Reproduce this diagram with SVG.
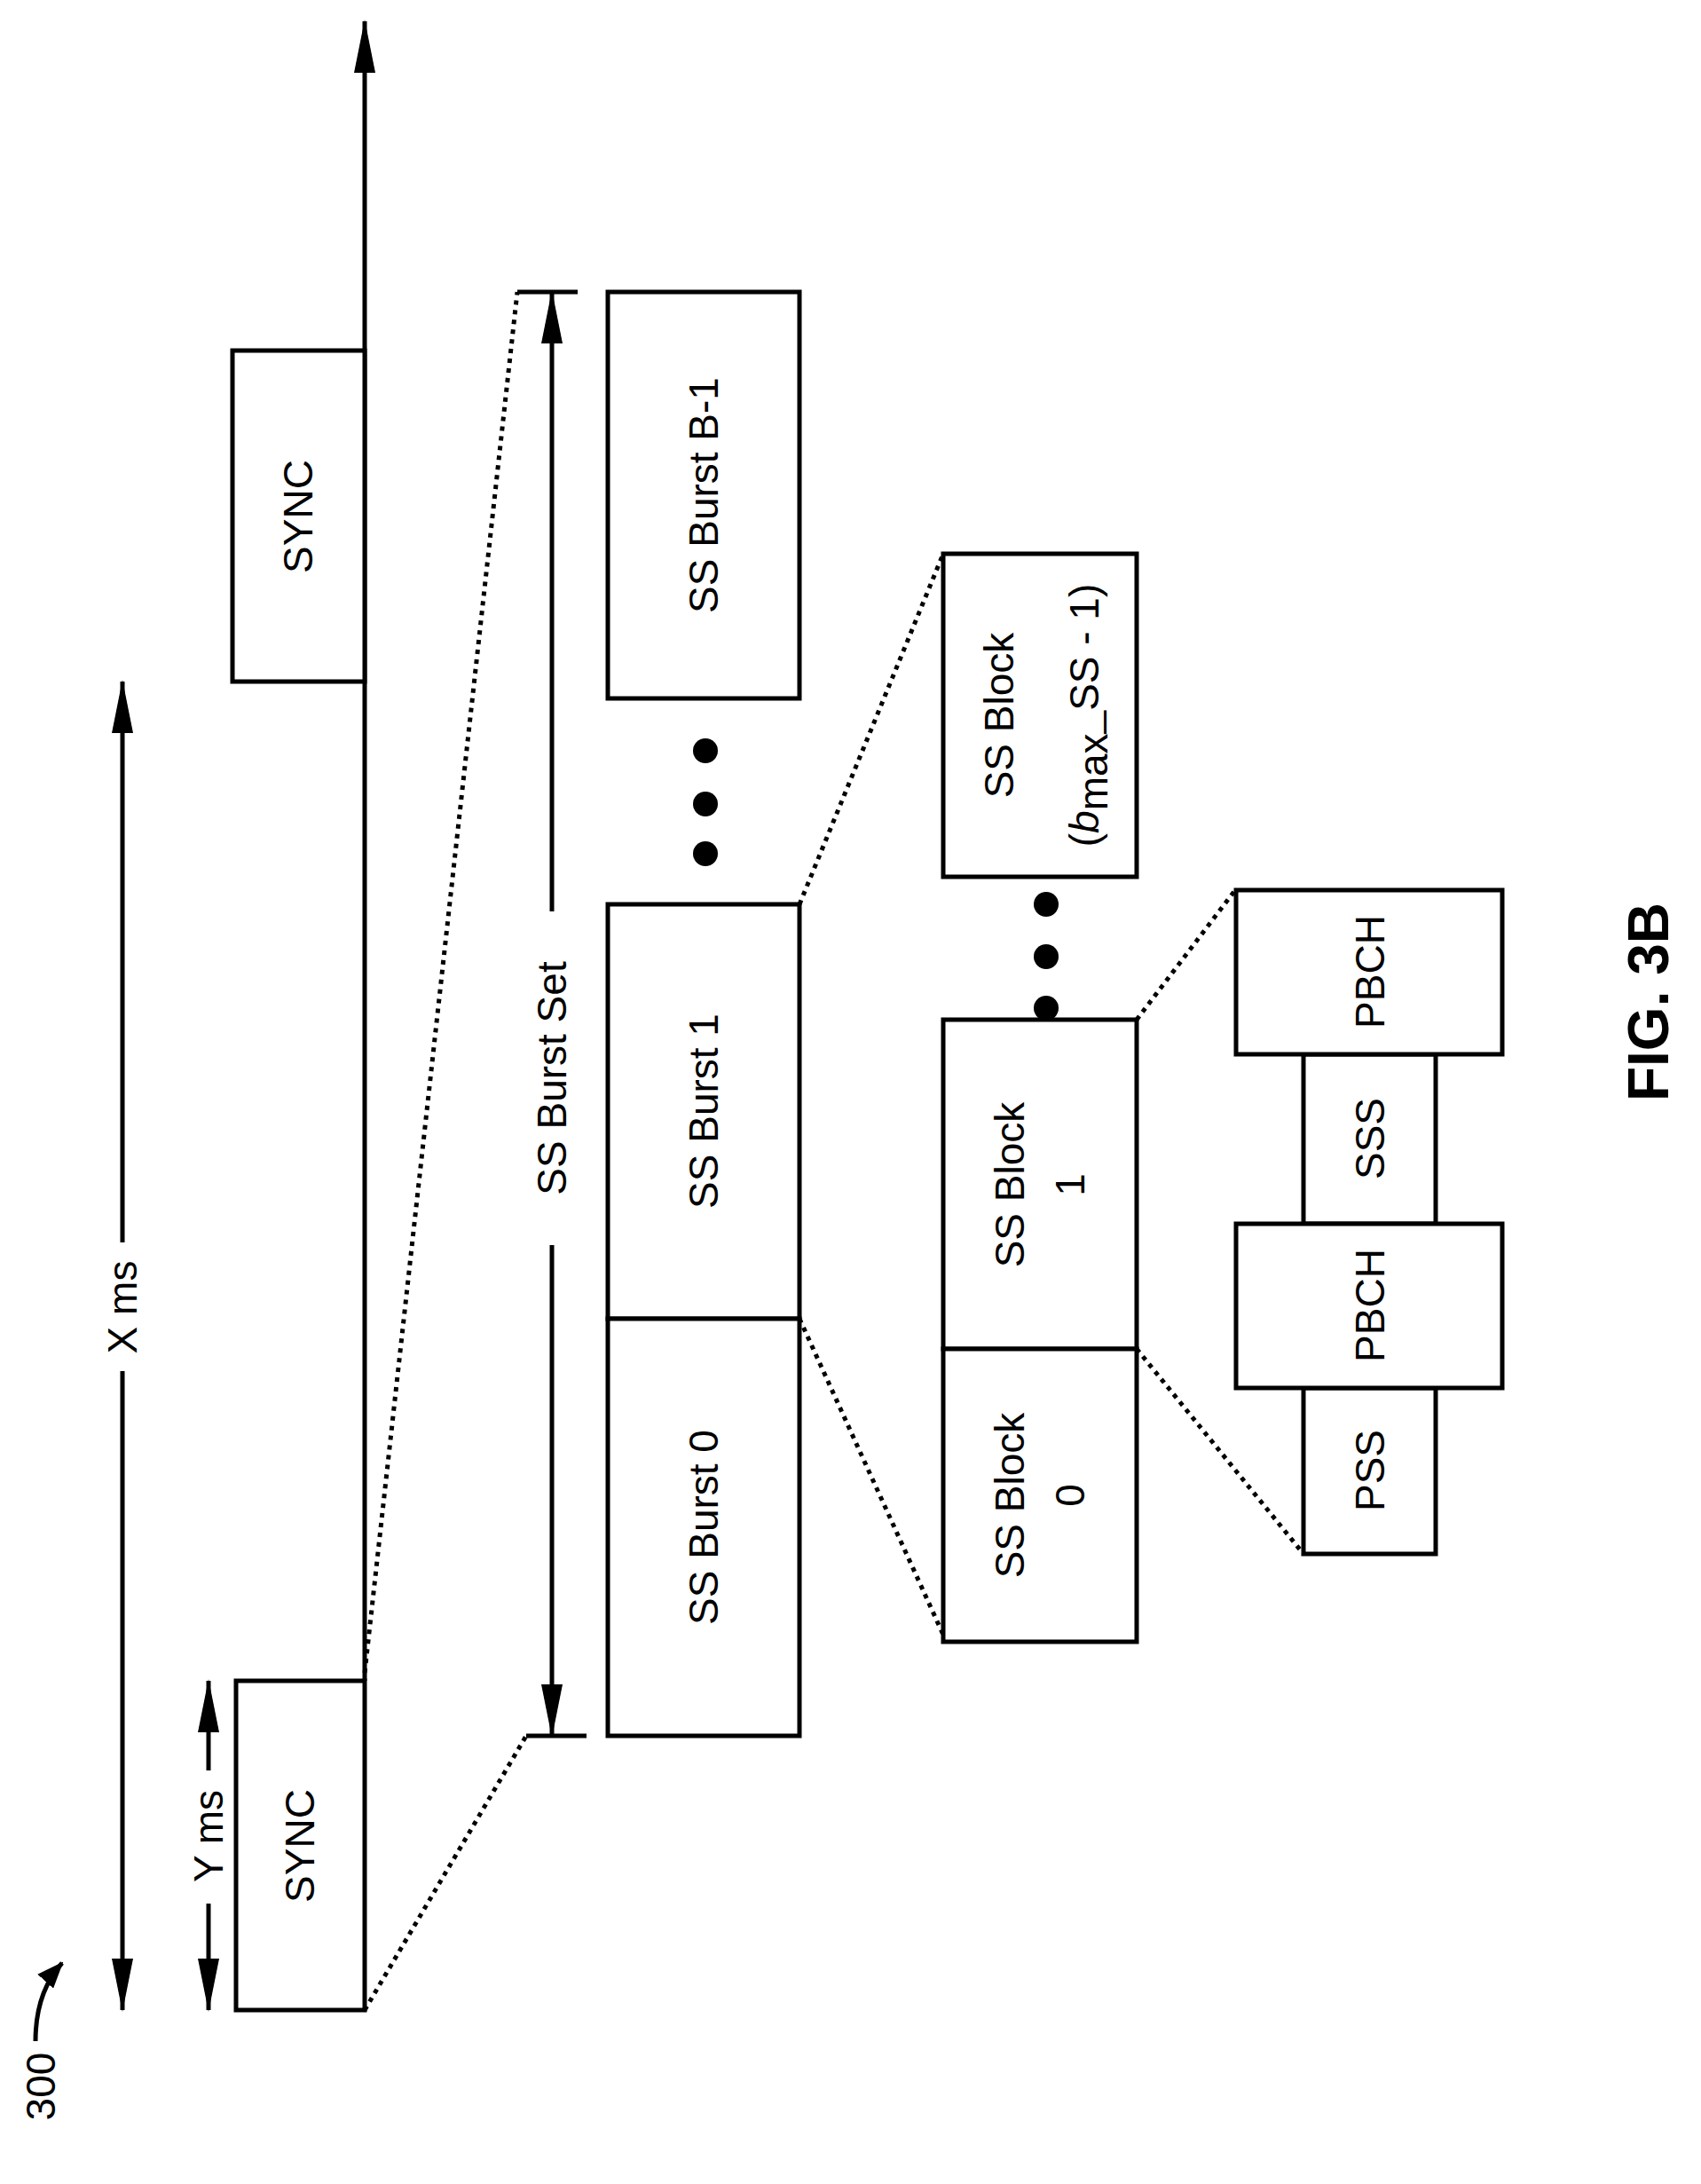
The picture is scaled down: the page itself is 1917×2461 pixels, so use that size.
<svg xmlns="http://www.w3.org/2000/svg" width="1917" height="2461" viewBox="0 0 1917 2461">
<defs>
<style>
.b{fill:#fff;stroke:#000;stroke-width:5}
.l{fill:none;stroke:#000;stroke-width:5}
.d{fill:none;stroke:#000;stroke-width:5;stroke-dasharray:5 6}
text{font-family:"Liberation Sans",Arial,sans-serif;font-size:46px;text-anchor:middle;fill:#000}
</style>
<marker id="ah" viewBox="0 0 60 24" refX="58" refY="12" markerWidth="60" markerHeight="24" orient="auto-start-reverse" markerUnits="userSpaceOnUse">
<path d="M0,0 L60,12 L0,24 z"/>
</marker>
<marker id="sh" viewBox="0 0 30 24" refX="28" refY="12" markerWidth="30" markerHeight="24" orient="auto" markerUnits="userSpaceOnUse">
<path d="M0,0 L30,12 L0,24 z"/>
</marker>
</defs>
<rect width="1917" height="2461" fill="#fff"/>
<g id="connectors">
<line class="l" x1="411" y1="1894" x2="411" y2="24" marker-end="url(#ah)"/>
<line class="l" x1="138" y1="1400" x2="138" y2="768" marker-end="url(#ah)"/>
<line class="l" x1="138" y1="1545" x2="138" y2="2265" marker-end="url(#ah)"/>
<line class="l" x1="235" y1="1995" x2="235" y2="1894" marker-end="url(#ah)"/>
<line class="l" x1="235" y1="2145" x2="235" y2="2265" marker-end="url(#ah)"/>
<line class="l" x1="622" y1="1027" x2="622" y2="329" marker-end="url(#ah)"/>
<line class="l" x1="622" y1="1403" x2="622" y2="1956" marker-end="url(#ah)"/>
<line class="l" x1="583" y1="329" x2="651" y2="329"/>
<line class="l" x1="593" y1="1956" x2="661" y2="1956"/>
<line class="d" x1="411" y1="1885" x2="583" y2="329"/>
<line class="d" x1="411" y1="2265" x2="593" y2="1956"/>
<line class="d" x1="901" y1="1019" x2="1063" y2="624"/>
<line class="d" x1="901" y1="1486" x2="1063" y2="1842"/>
<line class="d" x1="1281" y1="1149" x2="1392" y2="1003"/>
<line class="d" x1="1281" y1="1520" x2="1469" y2="1751"/>
<path class="l" d="M40,2300 Q40,2245 70,2212" marker-end="url(#sh)"/>
</g>
<g id="xms"><text transform="translate(154,1473) rotate(-90)">X ms</text></g>
<g id="yms"><text transform="translate(251,2069) rotate(-90)">Y ms</text></g>
<g id="sync0"><rect class="b" x="266" y="1894" width="145" height="371"/><text transform="translate(354,2080) rotate(-90)">SYNC</text></g>
<g id="sync1"><rect class="b" x="262" y="395" width="149" height="373"/><text transform="translate(352,582) rotate(-90)">SYNC</text></g>
<g id="burstset"><text transform="translate(638,1215) rotate(-90)">SS Burst Set</text></g>
<g id="burstB1"><rect class="b" x="685" y="329" width="216" height="458"/><text transform="translate(809,558) rotate(-90)">SS Burst B-1</text></g>
<g id="burst1"><rect class="b" x="685" y="1019" width="216" height="467"/><text transform="translate(809,1252) rotate(-90)">SS Burst 1</text></g>
<g id="burst0"><rect class="b" x="685" y="1486" width="216" height="470"/><text transform="translate(809,1721) rotate(-90)">SS Burst 0</text></g>
<g id="dots1"><circle cx="795" cy="846" r="14"/><circle cx="795" cy="906" r="14"/><circle cx="795" cy="962" r="14"/></g>
<g id="blockmax"><rect class="b" x="1063" y="624" width="218" height="364"/>
<text transform="translate(1142,806) rotate(-90)">SS Block</text>
<text transform="translate(1238,806) rotate(-90)">(<tspan font-style="italic">b</tspan><tspan dy="10">max</tspan><tspan dy="-10">_SS - 1)</tspan></text></g>
<g id="block1"><rect class="b" x="1063" y="1149" width="218" height="371"/><text transform="translate(1154,1335) rotate(-90)">SS Block</text><text transform="translate(1222,1335) rotate(-90)">1</text></g>
<g id="block0"><rect class="b" x="1063" y="1520" width="218" height="330"/><text transform="translate(1154,1685) rotate(-90)">SS Block</text><text transform="translate(1222,1685) rotate(-90)">0</text></g>
<g id="dots2"><circle cx="1179" cy="1019" r="14"/><circle cx="1179" cy="1078" r="14"/><circle cx="1179" cy="1136" r="14"/></g>
<g id="sss"><rect class="b" x="1469" y="1188" width="149" height="191"/><text transform="translate(1560,1283) rotate(-90)">SSS</text></g>
<g id="pss"><rect class="b" x="1469" y="1564" width="149" height="187"/><text transform="translate(1560,1657) rotate(-90)">PSS</text></g>
<g id="pbch1"><rect class="b" x="1393" y="1003" width="300" height="185"/><text transform="translate(1560,1095) rotate(-90)">PBCH</text></g>
<g id="pbch0"><rect class="b" x="1393" y="1379" width="300" height="185"/><text transform="translate(1560,1471) rotate(-90)">PBCH</text></g>
<g id="fig"><text transform="translate(1880,1129) rotate(-90)" style="font-weight:bold;font-size:64px">FIG. 3B</text></g>
<g id="ref"><text transform="translate(62,2351) rotate(-90)">300</text></g>
</svg>
